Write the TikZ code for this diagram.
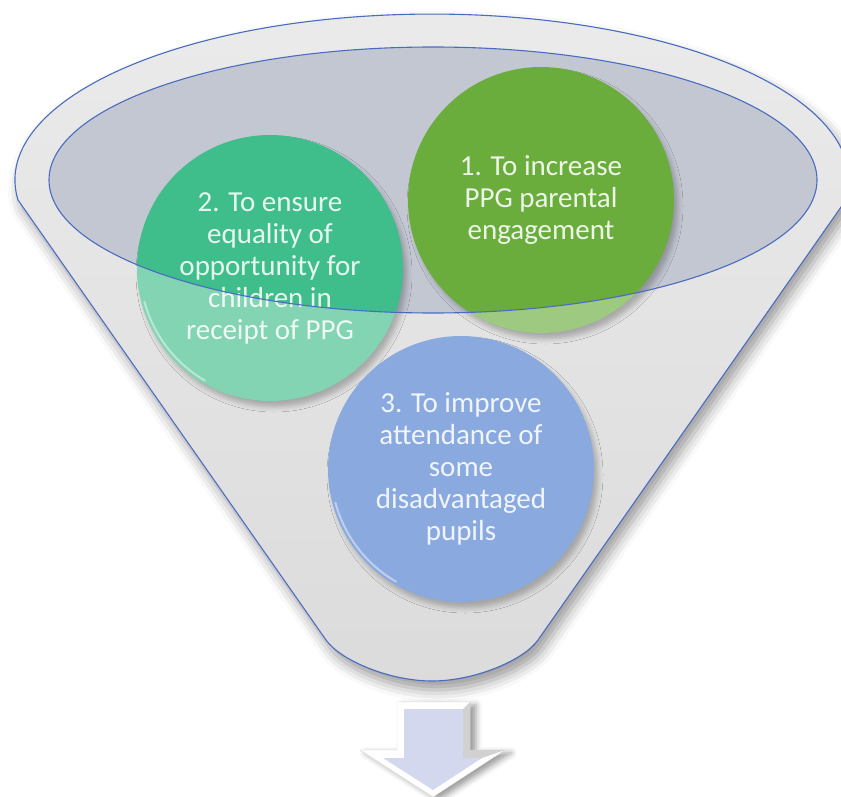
\documentclass[tikz,border=0pt]{standalone}
\usepackage{fontspec}
\setmainfont{Carlito}
\usetikzlibrary{positioning, shapes.geometric, shadows.blur}

\definecolor{rimblue}{HTML}{4A6CC0}
\definecolor{mouthgrey}{HTML}{C3C7D2}
\definecolor{goalgreen}{HTML}{6AAD3D}
\definecolor{goalteal}{HTML}{3FBE8B}
\definecolor{goalblue}{HTML}{8AA9DF}
\definecolor{arrowface}{HTML}{D3D8EE}

\tikzset{
  goal/.style={circle, minimum size=266pt, inner sep=0pt, align=center,
    text=white, text opacity=.88, font=\fontsize{29}{32}\selectfont,
    blur shadow={shadow xshift=4pt, shadow yshift=-6pt, shadow blur radius=5pt, shadow opacity=25}},
  rim/.style={draw=rimblue, line width=1.1pt},
  gleam/.style={white, opacity=.45, line width=2pt, line cap=round},
}

\begin{document}
\begin{tikzpicture}[x=1pt, y=-1pt]
      \useasboundingbox (0,0) rectangle (841,797);
      \clip (0,0) rectangle (841,797);

      % funnel body
      \path[rim, top color=black!8, bottom color=black!14,
        blur shadow={shadow xshift=5pt, shadow yshift=-9pt, shadow blur radius=12pt, shadow opacity=40}]
        (18,200) arc[start angle=173.1, end angle=366.9, x radius=417, y radius=166]
        -- (538,640) .. controls (524,660) and (475,681) .. (432,681)
        .. controls (389,681) and (340,660) .. (326,640) -- cycle;
      \fill[mouthgrey] (433,180) ellipse [x radius=384, y radius=133];

      \node[goal, fill=goalgreen] (g1) at (541,200) {1. To increase\\PPG parental\\engagement};
      \node[goal, fill=goalteal] (g2) at (270,268) {2. To ensure\\equality of\\opportunity for\\children in\\receipt of PPG};
      \node[goal, fill=goalblue] (g3) at (461,469) {3. To improve\\attendance of\\some\\disadvantaged\\pupils};

      % lighter where the circles leave the mouth
      \foreach \g in {g1,g2} {
        \begin{scope}
          \clip (\g.center) circle (133);
          \fill[white, opacity=.35, even odd rule] (0,0) rectangle (841,797)
            (433,180) ellipse [x radius=384, y radius=133];
        \end{scope}
      }

      \draw[gleam] (g2.center) ++(120:130) arc[start angle=120, end angle=165, radius=130];
      \draw[gleam] (g3.center) ++(120:130) arc[start angle=120, end angle=165, radius=130];

      \draw[rim] (433,180) ellipse [x radius=384, y radius=133];

      % arrow
      \fill[white, draw=black!15,
        blur shadow={shadow xshift=6pt, shadow yshift=-3pt, shadow blur radius=6pt, shadow opacity=40}]
        (397,702) -- (470,702) -- (470,750) -- (505,750) -- (433,797) -- (360,750) -- (397,750) -- cycle;
      \fill[black!18] (463,709) -- (470,702) -- (470,750) -- (505,750) -- (482,758) -- (463,758) -- cycle;
      \fill[arrowface] (404,709) -- (463,709) -- (463,758) -- (482,758) -- (433,790) -- (383,758) -- (404,758) -- cycle;
    \end{tikzpicture}
\end{document}
